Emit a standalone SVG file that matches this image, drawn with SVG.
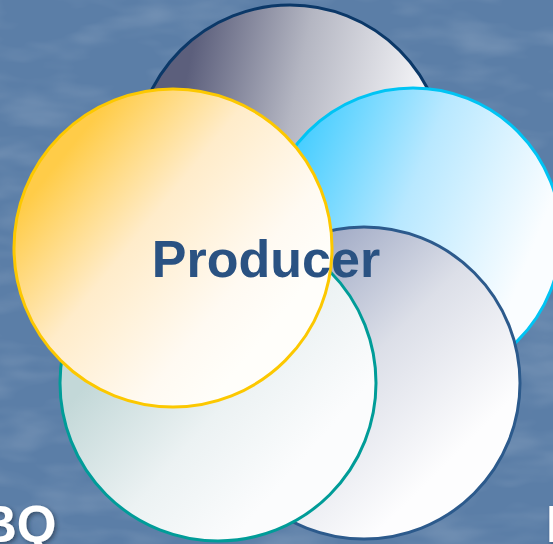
<svg xmlns="http://www.w3.org/2000/svg" width="553" height="544" viewBox="0 0 553 544">
<defs>
<filter id="tex" x="0" y="0" width="100%" height="100%">
<feTurbulence type="fractalNoise" baseFrequency="0.012 0.035" numOctaves="3" seed="4"/>
<feColorMatrix type="matrix" values="0 0 0 0 1  0 0 0 0 1  0 0 0 0 1  0 0 0 0.9 -0.38"/>
</filter>
<filter id="shadow" x="-20%" y="-20%" width="140%" height="140%">
<feGaussianBlur in="SourceAlpha" stdDeviation="2"/>
<feOffset dx="2" dy="2" result="b"/>
<feFlood flood-color="#1a2a40" flood-opacity="0.6"/>
<feComposite in2="b" operator="in"/>
<feMerge><feMergeNode/><feMergeNode in="SourceGraphic"/></feMerge>
</filter>
<linearGradient id="gGray" gradientUnits="userSpaceOnUse" x1="190" y1="60" x2="430" y2="110">
<stop offset="0" stop-color="#5c5f7c"/>
<stop offset="0.45" stop-color="#b4b6c2"/>
<stop offset="1" stop-color="#fafafc"/>
</linearGradient>
<linearGradient id="gBlue" gradientUnits="userSpaceOnUse" x1="290" y1="130" x2="540" y2="230">
<stop offset="0" stop-color="#3ccbff"/>
<stop offset="0.5" stop-color="#b8e8ff"/>
<stop offset="1" stop-color="#fafdff"/>
</linearGradient>
<linearGradient id="gSlate" gradientUnits="userSpaceOnUse" x1="300" y1="250" x2="480" y2="430">
<stop offset="0" stop-color="#9ea8c4"/>
<stop offset="0.5" stop-color="#dcdfe8"/>
<stop offset="1" stop-color="#fdfdfe"/>
</linearGradient>
<linearGradient id="gTeal" gradientUnits="userSpaceOnUse" x1="90" y1="380" x2="250" y2="520">
<stop offset="0" stop-color="#c3d8d8"/>
<stop offset="0.55" stop-color="#ecf2f3"/>
<stop offset="1" stop-color="#fbfcfd"/>
</linearGradient>
<linearGradient id="gYellow" gradientUnits="userSpaceOnUse" x1="60" y1="160" x2="270" y2="330">
<stop offset="0" stop-color="#ffcc48"/>
<stop offset="0.4" stop-color="#ffecca"/>
<stop offset="0.8" stop-color="#fffaf2"/>
<stop offset="1" stop-color="#fffefa"/>
</linearGradient>
<style>
.c{stroke-width:3}
.lbl{font-family:"Liberation Sans",Arial,sans-serif;font-weight:bold}
.edge{fill:#ffffff;filter:url(#shadow)}
</style>
</defs>
<rect width="553" height="544" fill="#5b7ea7"/>
<rect width="553" height="544" filter="url(#tex)" opacity="0.35"/>
<text class="lbl edge" x="-20" y="542" font-size="51">BQ</text>
<text class="lbl edge" x="546" y="542" font-size="51">I</text>
<g id="circle-gray"><circle class="c" cx="290" cy="160" r="155" fill="url(#gGray)" stroke="#0b3868"/></g>
<g id="circle-blue"><circle class="c" cx="413" cy="236" r="148" fill="url(#gBlue)" stroke="#00c4f4"/></g>
<g id="circle-slate"><circle class="c" cx="364" cy="383" r="156" fill="url(#gSlate)" stroke="#2c5a8c"/></g>
<g id="circle-teal"><circle class="c" cx="218" cy="383" r="158" fill="url(#gTeal)" stroke="#009c98"/></g>
<g id="circle-yellow"><circle class="c" cx="173" cy="248" r="159" fill="url(#gYellow)" stroke="#fcc800"/></g>
<g id="label"><text class="lbl" x="266" y="277" font-size="52" fill="#2a5282" text-anchor="middle">Producer</text></g>
<g id="connectors"/>
</svg>
